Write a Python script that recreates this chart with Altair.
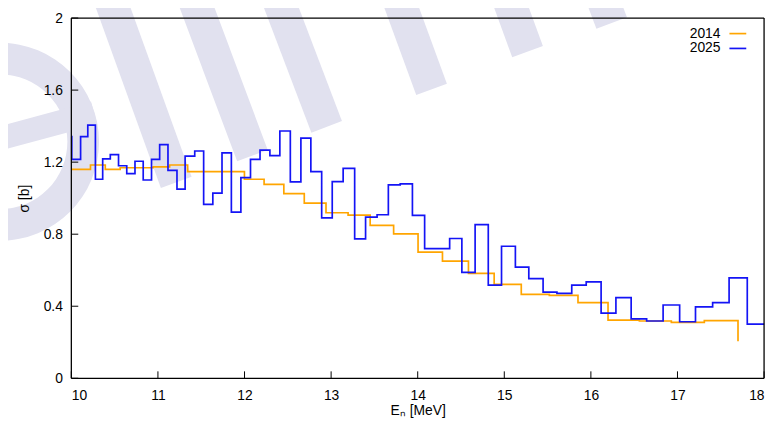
import altair as alt
import pandas as pd

# ---- data ----
x2014 = [10.0, 10.221, 10.392, 10.564, 10.945, 11.135, 11.343, 11.999, 12.226, 12.454,
         12.69, 12.941, 13.196, 13.451, 13.722, 14.004, 14.286, 14.586, 14.883, 15.196,
         15.52, 15.851, 16.198, 16.56, 16.929, 17.31, 17.699]
y2014 = [1.16, 1.184, 1.16, 1.169, 1.174, 1.184, 1.147, 1.105, 1.077, 1.025,
         0.972, 0.919, 0.906, 0.849, 0.802, 0.70, 0.65, 0.582, 0.521, 0.466,
         0.46, 0.42, 0.323, 0.318, 0.31, 0.32, 0.205]

x2025 = [10.0, 10.005, 10.107, 10.19, 10.278, 10.362, 10.45, 10.545, 10.64, 10.735,
         10.83, 10.926, 11.02, 11.116, 11.22, 11.314, 11.425, 11.528, 11.634, 11.74,
         11.848, 11.958, 12.069, 12.179, 12.293, 12.408, 12.529, 12.651, 12.766, 12.891,
         13.013, 13.139, 13.272, 13.398, 13.531, 13.661, 13.798, 13.939, 14.08, 14.225,
         14.369, 14.51, 14.663, 14.815, 14.968, 15.128, 15.283, 15.448, 15.608, 15.779,
         15.946, 16.118, 16.289, 16.465, 16.644, 16.834, 17.025, 17.208, 17.406, 17.596,
         17.806, 18.0]
y2025 = [1.342, 1.215, 1.342, 1.406, 1.105, 1.218, 1.242, 1.18, 1.136, 1.205,
         1.101, 1.215, 1.297, 1.154, 1.05, 1.233, 1.262, 0.966, 1.028, 1.251,
         0.922, 1.114, 1.215, 1.267, 1.236, 1.373, 1.09, 1.333, 1.147, 0.891,
         1.092, 1.165, 0.774, 0.895, 0.908, 1.074, 1.079, 0.904, 0.72, 0.72,
         0.776, 0.588, 0.853, 0.517, 0.733, 0.617, 0.553, 0.478, 0.471, 0.517,
         0.535, 0.362, 0.448, 0.33, 0.318, 0.407, 0.314, 0.396, 0.42, 0.557,
         0.301, 0.301]

series_names = ["2014", "2025"]
series_colors = ["#ffa500", "#1414f5"]
x_ticks = [10, 11, 12, 13, 14, 15, 16, 17, 18]
y_ticks = [0, 0.4, 0.8, 1.2, 1.6, 2]

W, H = 700, 364
FONT = "Liberation Sans"
WM = "#e1e1ef"

df = pd.concat([
    pd.DataFrame({"E": x2014, "sigma": y2014, "set": "2014", "order": range(len(x2014))}),
    pd.DataFrame({"E": x2025, "sigma": y2025, "set": "2025", "order": range(len(x2025))}),
])

xscale = alt.Scale(domain=[10, 18], nice=False)
yscale = alt.Scale(domain=[0, 2], nice=False)
cscale = alt.Scale(domain=series_names, range=series_colors)

dummy = pd.DataFrame({"a": [0]})

# ---- background watermark (decoration) ----
wm_layers = []
bars = [((106, 166), (31.6, -40)), ((183, 139), (116, -40)), ((258, 110), (201, -40)),
        ((364, 72), (323, -40)), ((461, 34), (434, -40)), ((546, 5), (529, -40))]
for (bx, by), (tx, ty) in bars:
    wm_layers.append(
        alt.Chart(dummy).mark_rule(color=WM, strokeWidth=33, strokeCap="butt", clip=False)
        .encode(x=alt.value(bx), y=alt.value(by), x2=alt.value(tx), y2=alt.value(ty))
    )
wm_layers.append(
    alt.Chart(dummy).mark_arc(color=WM, radius=100, radius2=68, theta=0, theta2=3.14159, clip=False)
    .encode(x=alt.value(-72), y=alt.value(125))
)
wm_layers.append(
    alt.Chart(dummy).mark_rule(color=WM, strokeWidth=24, strokeCap="butt", clip=False)
    .encode(x=alt.value(-77), y=alt.value(123), x2=alt.value(23), y2=alt.value(96))
)

lines = alt.Chart(df).mark_line(interpolate="step-after", strokeWidth=1.7).encode(
    x=alt.X("E:Q", scale=xscale,
            axis=alt.Axis(values=x_ticks, format="d", title="Eₙ [MeV]", zindex=2,
                          titleX=W / 2, titleY=37, titleBaseline="alphabetic",
                          labelPadding=10)),
    y=alt.Y("sigma:Q", scale=yscale,
            axis=alt.Axis(values=y_ticks, format="~g", title="σ [b]", zindex=2,
                          titleX=-47, titleY=H / 2, titleBaseline="middle",
                          labelPadding=9)),
    color=alt.Color("set:N", scale=cscale, legend=None),
    detail="set:N",
    order="order:Q",
)

xt = alt.Chart(pd.DataFrame({"t": x_ticks})).mark_rule(color="black", strokeWidth=1).encode(
    x=alt.X("t:Q", scale=xscale), y=alt.value(H), y2=alt.value(H - 7))
yt = alt.Chart(pd.DataFrame({"t": y_ticks})).mark_rule(color="black", strokeWidth=1).encode(
    y=alt.Y("t:Q", scale=yscale), x=alt.value(0), x2=alt.value(7))

# frame
frame = [
    alt.Chart(dummy).mark_rule(color="black", strokeWidth=1.3, clip=False)
    .encode(x=alt.value(0), x2=alt.value(W), y=alt.value(0)),
    alt.Chart(dummy).mark_rule(color="black", strokeWidth=1.3, clip=False)
    .encode(x=alt.value(0), x2=alt.value(W), y=alt.value(H)),
    alt.Chart(dummy).mark_rule(color="black", strokeWidth=1.3, clip=False)
    .encode(x=alt.value(0), y=alt.value(0), y2=alt.value(H)),
    alt.Chart(dummy).mark_rule(color="black", strokeWidth=1.3, clip=False)
    .encode(x=alt.value(W), y=alt.value(0), y2=alt.value(H)),
]

leg = []
for i, (name, col) in enumerate(zip(series_names, series_colors)):
    yy = 15.7 + 15 * i
    leg.append(alt.Chart(dummy).mark_text(align="right", baseline="middle", font=FONT,
                                          fontSize=14, color="black")
               .encode(x=alt.value(656), y=alt.value(yy), text=alt.value(name)))
    leg.append(alt.Chart(dummy).mark_rule(color=col, strokeWidth=1.7)
               .encode(x=alt.value(665), x2=alt.value(682), y=alt.value(yy)))

chart = alt.layer(*wm_layers, lines, xt, yt, *frame, *leg).properties(
    width=W, height=H,
    padding={"left": 64, "top": 8, "right": 7, "bottom": 40},
    autosize=alt.AutoSizeParams(type="none"),
).configure_view(stroke=None).configure_axis(
    domain=False, grid=False, ticks=False, tickSize=0,
    labelFont=FONT, labelFontSize=14, labelColor="black",
    titleFont=FONT, titleFontSize=14, titleFontWeight="normal", titleColor="black",
)

chart.save("out.html", embed_options={"renderer": "svg", "actions": False})
